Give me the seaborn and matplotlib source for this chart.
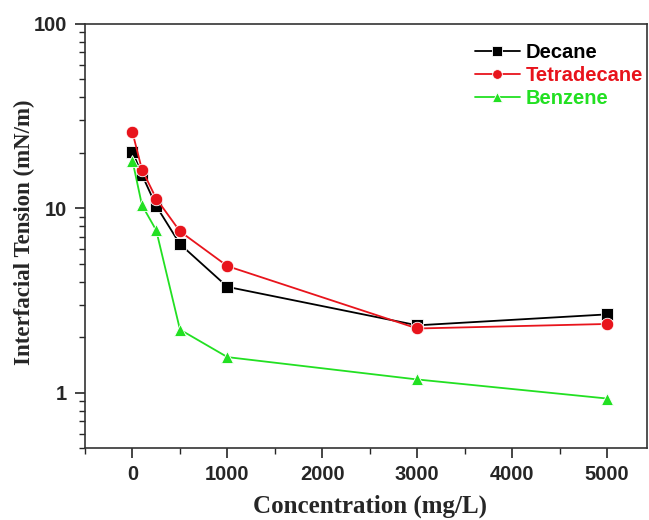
import pandas as pd
import matplotlib.pyplot as plt
import seaborn as sns
from matplotlib.ticker import MultipleLocator, LogLocator, NullFormatter, FixedLocator

# Data
conc = [0, 100, 250, 500, 1000, 3000, 5000]
decane = [20.3, 15.2, 10.3, 6.4, 3.75, 2.32, 2.66]
tetradecane = [25.8, 16.2, 11.3, 7.5, 4.86, 2.23, 2.36]
benzene = [18.1, 10.4, 7.6, 2.2, 1.56, 1.18, 0.93]

series = ['Decane', 'Tetradecane', 'Benzene']
colors = ['black', '#e8141c', '#22e022']
markers = ['s', 'o', '^']

df = pd.DataFrame({
    'Concentration': conc * 3,
    'IFT': decane + tetradecane + benzene,
    'Oil': sum([[s] * len(conc) for s in series], []),
})

sns.set_style('ticks')
fig = plt.figure(figsize=(6.49, 5.2), dpi=100)
ax = fig.add_axes([0.131, 0.138, 0.866, 0.816])

for name, c, m in zip(series, colors, markers):
    sub = df[df['Oil'] == name]
    sns.lineplot(data=sub, x='Concentration', y='IFT', ax=ax, color=c,
                 marker=m, markersize=9, markeredgecolor='white',
                 markeredgewidth=0.6, linewidth=1.3, label=name)

ax.set_yscale('log')
ax.set_ylim(0.5, 100)
ax.set_xlim(-500, 5420)
ax.xaxis.set_major_locator(FixedLocator([0, 1000, 2000, 3000, 4000, 5000]))
ax.xaxis.set_minor_locator(MultipleLocator(500))
ax.yaxis.set_major_locator(FixedLocator([1, 10, 100]))
ax.yaxis.set_minor_locator(LogLocator(base=10, subs=range(2, 10)))
ax.yaxis.set_minor_formatter(NullFormatter())
ax.set_yticklabels(['1', '10', '100'])

for lab in ax.get_xticklabels() + ax.get_yticklabels():
    lab.set_fontfamily('Liberation Sans')
    lab.set_fontweight('bold')
    lab.set_fontsize(14.5)

ax.tick_params(which='major', direction='out', length=7, width=1.2)
ax.tick_params(axis='x', which='major', pad=5)
ax.tick_params(axis='y', which='major', pad=6)
ax.tick_params(which='minor', direction='out', length=4, width=1.0)
for sp in ax.spines.values():
    sp.set_linewidth(1.2)
    sp.set_color('#333333')

ax.set_xlabel('Concentration (mg/L)', fontfamily='Liberation Serif',
              fontweight='bold', fontsize=18)
ax.set_ylabel('Interfacial Tension (mN/m)', fontfamily='Liberation Serif',
              fontweight='bold', fontsize=16.5)
ax.xaxis.set_label_coords(0.507, -0.136)
ax.xaxis.label.set_va('center')
ax.yaxis.set_label_coords(-0.107, 0.51)
ax.yaxis.label.set_va('center')

leg = ax.legend(loc='upper right', frameon=False, fontsize=14.5,
                handlelength=2.2, handletextpad=0.3, labelspacing=0.2,
                borderpad=0.2, borderaxespad=0.0,
                bbox_to_anchor=(1.0, 0.965))
for txt, c in zip(leg.get_texts(), colors):
    txt.set_color(c)
    txt.set_fontfamily('Liberation Sans')
    txt.set_fontweight('bold')
for h in leg.legend_handles:
    h.set_markersize(7)

fig.savefig('out.png', dpi=100)
